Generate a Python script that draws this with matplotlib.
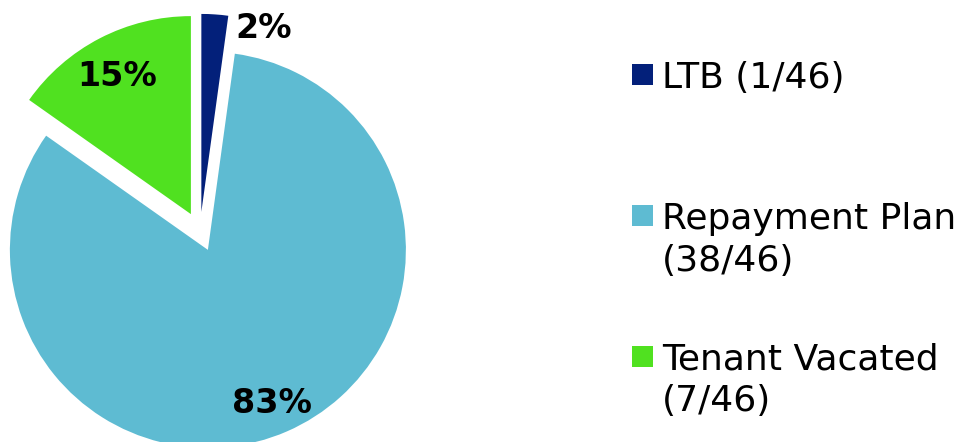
import numpy as np
import matplotlib
matplotlib.use("Agg")
import matplotlib.pyplot as plt
from matplotlib.patches import Rectangle

# ============================================
# Data
# ============================================

categories = ["LTB", "Repayment Plan", "Tenant Vacated"]
counts = [1, 38, 7]
colors = ["#03207A", "#5EBBD2", "#50E120"]
legend_labels = [["LTB (1/46)"], ["Repayment Plan", "(38/46)"], ["Tenant Vacated", "(7/46)"]]

total = sum(counts)

# ============================================
# Figure
# ============================================

W, H = 978, 442
fig = plt.figure(figsize=(W / 100, H / 100), dpi=100)

# pie centre at (200, 232) px, radius 198 px
R = 198.0
cx, cy = 200.0, H - 231.7
ax = fig.add_axes([0, 0, 1, 1])

explode = [0.1] * len(counts)
wedges, _ = ax.pie(counts, colors=colors, startangle=90, counterclock=False,
                   explode=explode, radius=1.0, center=(0, 0),
                   wedgeprops=dict(linewidth=0))

# pie() resets the limits, so set them afterwards
ax.set_xlim(-cx / R, (W - cx) / R)
ax.set_ylim(-cy / R, (H - cy) / R)
ax.set_aspect("auto")
ax.axis("off")

# percentage labels
label_r = [1.078, 0.94, 0.89]
label_shift = [-13.5, -0.7, 0.8]
for w, c, r, s in zip(wedges, counts, label_r, label_shift):
    ang = np.deg2rad((w.theta1 + w.theta2) / 2 + s)
    pct = round(100 * c / total)
    ax.text(r * np.cos(ang), r * np.sin(ang), f"{pct}%", ha="center", va="center",
            fontsize=24, fontweight="bold", family="DejaVu Sans", color="black")

# ============================================
# Legend (manual)
# ============================================

def px(x, y):
    return x / W, 1 - y / H

square_top = [64, 205, 346]
baselines = [88.3, 229.3, 369.3]
line_step = 42
for col, lines, top, base in zip(colors, legend_labels, square_top, baselines):
    x0, y0 = px(632, top + 21)
    fig.patches.append(Rectangle((x0, y0), 21 / W, 21 / H, transform=fig.transFigure,
                                 facecolor=col, edgecolor="none"))
    for i, line in enumerate(lines):
        tx, ty = px(662, base + i * line_step)
        fig.text(tx, ty, line, ha="left", va="baseline", fontsize=26,
                 family="DejaVu Sans", color="black")

fig.savefig("out.png", dpi=100)
